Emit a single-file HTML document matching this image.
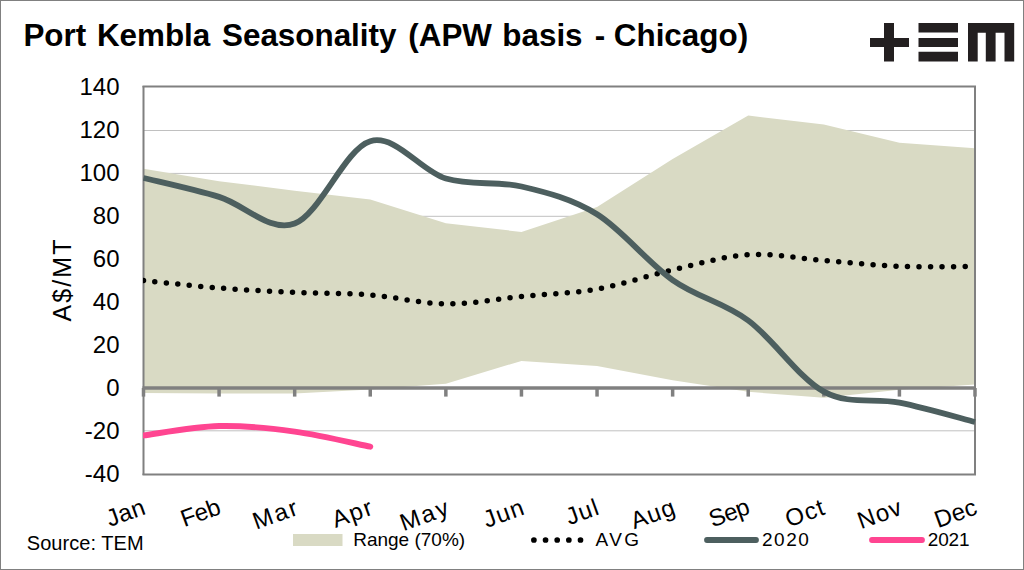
<!DOCTYPE html>
<html><head><meta charset="utf-8"><style>
html,body{margin:0;padding:0;background:#fff;}
svg{display:block;}
text{font-family:"Liberation Sans",sans-serif;fill:#000;}
</style></head><body>
<svg width="1024" height="570" viewBox="0 0 1024 570">
<rect x="0.5" y="0.5" width="1023" height="569" fill="#fff" stroke="#808080" stroke-width="1"/>
<text y="45.6" font-size="31.4" font-weight="bold"><tspan x="23.4">Port</tspan><tspan x="96.9">Kembla</tspan><tspan x="222">Seasonality</tspan><tspan x="408.3">(APW</tspan><tspan x="502.3">basis</tspan><tspan x="594.7">-</tspan><tspan x="613.8">Chicago)</tspan></text>
<g fill="#231f20">
<path d="M884,23H894V38H909V47H894V61.5H884V47H870V38H884Z"/>
<path d="M918.5,23H958V32.5H918.5ZM918.5,38H958V47H918.5ZM918.5,51.8H958V61.5H918.5Z"/>
<path d="M968,23H1014.2V61.5H1004.5V32.7H995.6V61.5H985.8V32.7H977.7V61.5H968Z"/>
</g>
<g stroke="#c0c0c0" stroke-width="1"><line x1="144" y1="130.5" x2="975" y2="130.5"/><line x1="144" y1="173.4" x2="975" y2="173.4"/><line x1="144" y1="216.3" x2="975" y2="216.3"/><line x1="144" y1="259.2" x2="975" y2="259.2"/><line x1="144" y1="302.1" x2="975" y2="302.1"/><line x1="144" y1="345" x2="975" y2="345"/><line x1="144" y1="430.8" x2="975" y2="430.8"/></g>
<polygon points="143.5,168.7 219.09,181.17 294.68,190.63 370.27,199.44 445.86,223.31 521.45,231.91 597.05,206.97 672.64,159.03 748.23,115.6 823.82,124.41 899.41,142.69 975,148.28 975,384.56 899.41,389.72 823.82,397.68 748.23,391.87 672.64,380.26 597.05,366.07 521.45,360.91 445.86,383.7 370.27,389.5 294.68,393.38 219.09,393.38 143.5,392.94" fill="#d9dac4"/>
<g fill="none" stroke="#808080">
<line x1="143.5" y1="86" x2="143.5" y2="475" stroke-width="2"/>
<line x1="142.5" y1="86.6" x2="976" y2="86.6" stroke-width="2"/>
<line x1="975" y1="86" x2="975" y2="475" stroke-width="2"/>
<line x1="142.5" y1="474.6" x2="976" y2="474.6" stroke-width="2"/>
<line x1="142.5" y1="388" x2="976" y2="388" stroke-width="3.6"/>
</g>
<g stroke="#808080" stroke-width="3.5"><line x1="143.5" y1="388" x2="143.5" y2="396.6"/><line x1="219.09" y1="388" x2="219.09" y2="396.6"/><line x1="294.68" y1="388" x2="294.68" y2="396.6"/><line x1="370.27" y1="388" x2="370.27" y2="396.6"/><line x1="445.86" y1="388" x2="445.86" y2="396.6"/><line x1="521.45" y1="388" x2="521.45" y2="396.6"/><line x1="597.05" y1="388" x2="597.05" y2="396.6"/><line x1="672.64" y1="388" x2="672.64" y2="396.6"/><line x1="748.23" y1="388" x2="748.23" y2="396.6"/><line x1="823.82" y1="388" x2="823.82" y2="396.6"/><line x1="899.41" y1="388" x2="899.41" y2="396.6"/><line x1="975" y1="388" x2="975" y2="396.6"/></g>
<g clip-path="url(#plotclip)">
<path d="M143.5,280.5 C156.1,281.75 193.89,286.05 219.09,288.02 C244.29,290 269.48,291.18 294.68,292.32 C319.88,293.47 345.08,292.97 370.27,294.91 C395.47,296.84 420.67,303.68 445.86,303.94 C471.06,304.19 496.26,298.88 521.45,296.41 C546.65,293.94 571.85,293.51 597.05,289.1 C622.24,284.69 647.44,275.7 672.64,269.97 C697.83,264.23 723.03,256.28 748.23,254.7 C773.42,253.12 798.62,258.57 823.82,260.5 C849.02,262.44 874.21,265.31 899.41,266.31 C924.61,267.31 962.4,266.49 975,266.52" fill="none" stroke="#000" stroke-width="5.5" stroke-linecap="round" stroke-dasharray="0 11.5"/>
<path d="M143.5,177.94 C156.1,181.1 193.89,189.27 219.09,196.87 C244.29,204.46 269.48,232.81 294.68,223.53 C319.88,214.24 345.08,148.67 370.27,141.18 C395.47,133.69 420.67,171.03 445.86,178.59 C471.06,186.15 496.26,180.6 521.45,186.55 C546.65,192.49 571.85,198.69 597.05,214.28 C622.24,229.87 647.44,262.37 672.64,280.07 C697.83,297.77 723.03,301.89 748.23,320.49 C773.42,339.09 798.62,377.97 823.82,391.65 C849.02,405.34 874.21,397.57 899.41,402.62 C924.61,407.67 962.4,418.75 975,421.97" fill="none" stroke="#4d5f5f" stroke-width="5.8" stroke-linecap="butt"/>
<path d="M143.5,435.43 C156.1,433.86 193.89,426.67 219.09,426.03 C244.29,425.39 269.48,428.14 294.68,431.58 C319.88,435.02 357.67,444.18 370.27,446.69" fill="none" stroke="#ff4591" stroke-width="5.9" stroke-linecap="round"/>
</g>
<defs><clipPath id="plotclip"><rect x="143" y="0" width="833" height="570"/></clipPath></defs>
<g font-size="24" text-anchor="end"><text x="119.5" y="95.1">140</text><text x="119.5" y="138.1">120</text><text x="119.5" y="181.1">100</text><text x="119.5" y="224.1">80</text><text x="119.5" y="267.1">60</text><text x="119.5" y="310.1">40</text><text x="119.5" y="353.1">20</text><text x="119.5" y="396.1">0</text><text x="119.5" y="439.1">-20</text><text x="119.5" y="482.1">-40</text></g>
<text transform="translate(71.3,279.5) rotate(-90)" font-size="25" text-anchor="middle" letter-spacing="2.1">A$/MT</text>
<g font-size="24" text-anchor="end" letter-spacing="1.2"><text transform="translate(141.15,497.5) rotate(-20)" x="0" y="17" letter-spacing="0.3">Jan</text><text transform="translate(216.09,497.5) rotate(-20)" x="0" y="17" letter-spacing="-0.4">Feb</text><text transform="translate(295.52,497.5) rotate(-20)" x="0" y="17" letter-spacing="2.2">Mar</text><text transform="translate(369.84,497.5) rotate(-20)" x="0" y="17" letter-spacing="1.8">Apr</text><text transform="translate(446.5,497.5) rotate(-20)" x="0" y="17" letter-spacing="2.2">May</text><text transform="translate(520.75,497.5) rotate(-20)" x="0" y="17" letter-spacing="1.2">Jun</text><text transform="translate(595.55,497.5) rotate(-20)" x="0" y="17" letter-spacing="1.2">Jul</text><text transform="translate(671.84,497.5) rotate(-20)" x="0" y="17" letter-spacing="1.2">Aug</text><text transform="translate(745.04,497.5) rotate(-20)" x="0" y="17" letter-spacing="-0.6">Sep</text><text transform="translate(821.42,497.5) rotate(-20)" x="0" y="17" letter-spacing="1.2">Oct</text><text transform="translate(898.71,497.5) rotate(-20)" x="0" y="17" letter-spacing="1.2">Nov</text><text transform="translate(972.96,497.5) rotate(-20)" x="0" y="17" letter-spacing="0.2">Dec</text></g>
<text x="26.8" y="549.6" font-size="20" letter-spacing="0.05">Source: TEM</text>
<rect x="293" y="534" width="49.5" height="12" fill="#d9dac4"/>
<text x="353.2" y="545.6" font-size="19">Range (70%)</text>
<line x1="533.9" y1="540" x2="580.6" y2="540" stroke="#000" stroke-width="5.7" stroke-linecap="round" stroke-dasharray="0 11.65"/>
<text x="595.5" y="545.7" font-size="19" letter-spacing="2.4">AVG</text>
<line x1="707" y1="540" x2="756" y2="540" stroke="#4d5f5f" stroke-width="5.8" stroke-linecap="round"/>
<text x="762" y="545.7" font-size="19" letter-spacing="1.5">2020</text>
<line x1="872" y1="540" x2="922" y2="540" stroke="#ff4591" stroke-width="5.8" stroke-linecap="round"/>
<text x="927.8" y="545.7" font-size="19" letter-spacing="-0.2">2021</text>
</svg>
</body></html>
